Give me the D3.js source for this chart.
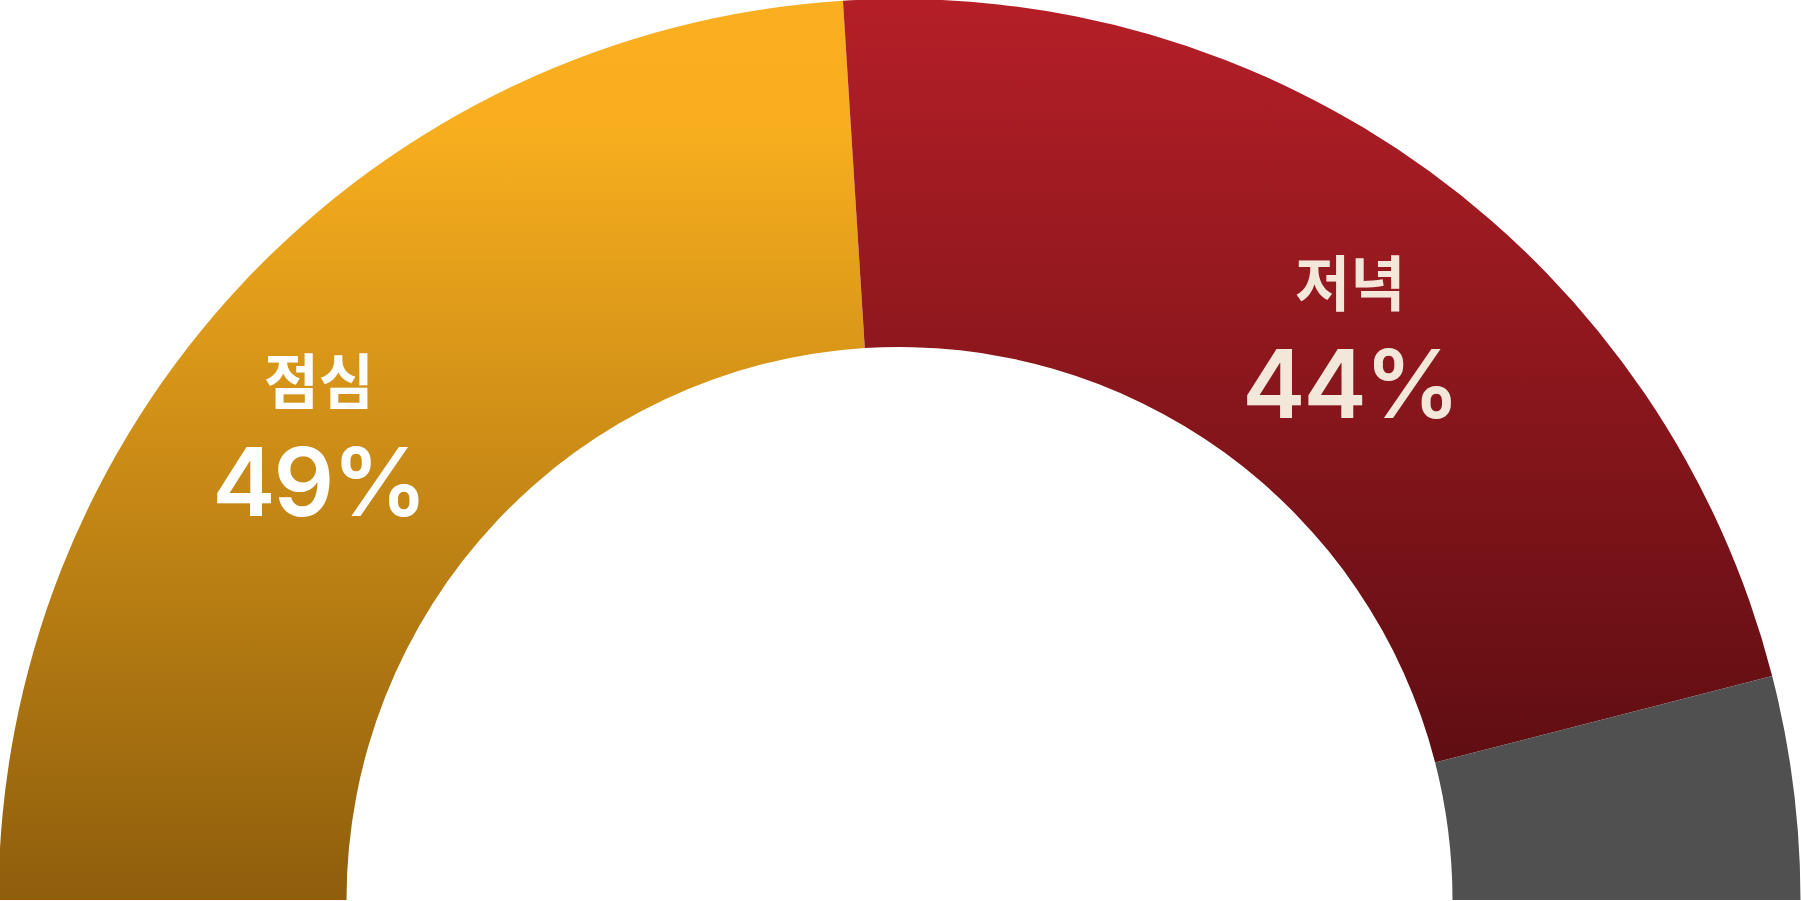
<!DOCTYPE html>
<html>
<head>
<meta charset="utf-8">
<script src="https://cdn.jsdelivr.net/npm/d3@7/dist/d3.min.js"></script>
<style>
  html, body { margin: 0; padding: 0; background: #ffffff; }
  svg { display: block; }
</style>
</head>
<body>
<svg id="chart" width="1801" height="901"></svg>
<script>
// ---- data ----
const categories = ["점심", "저녁", "기타"];
const values = [48, 44, 8];
const valueLabels = ["49%", "44%", ""];

// ---- layout ----
const W = 1801, H = 901;
const cx = 899.5, cy = 900;
const outerR = 901, innerR = 553;

const svg = d3.select("#chart");
const defs = svg.append("defs");

const gradOrange = defs.append("linearGradient").attr("id", "gOrange")
  .attr("x1", 0).attr("y1", 0).attr("x2", 0).attr("y2", 1);
gradOrange.append("stop").attr("offset", 0).attr("stop-color", "#F9AF1F");
gradOrange.append("stop").attr("offset", 0.14).attr("stop-color", "#F8AE1E");
gradOrange.append("stop").attr("offset", 1).attr("stop-color", "#8E5E0C");

const gradRed = defs.append("linearGradient").attr("id", "gRed")
  .attr("x1", 0).attr("y1", 0).attr("x2", 0).attr("y2", 1);
gradRed.append("stop").attr("offset", 0).attr("stop-color", "#B51F27");
gradRed.append("stop").attr("offset", 1).attr("stop-color", "#5F0E12");

const fills = ["url(#gOrange)", "url(#gRed)", "#505050"];
const textColors = ["#FFFFFF", "#F3E7DA", "#FFFFFF"];

const pie = d3.pie().sort(null).value(d => d)
  .startAngle(-Math.PI / 2).endAngle(Math.PI / 2);
const arcs = pie(values);

const arc = d3.arc().innerRadius(innerR).outerRadius(outerR);

const g = svg.append("g").attr("transform", `translate(${cx},${cy})`);

g.selectAll("path.slice")
  .data(arcs)
  .enter().append("path")
  .attr("class", "slice")
  .attr("d", arc)
  .attr("fill", (d, i) => fills[i]);

// label placement: polar position from the slice mid-angle with small nudges
const labelR = [744, 721, 0];
const angleNudge = [-4.5, 2.7, 0]; // degrees

arcs.forEach((d, i) => {
  if (!valueLabels[i]) return;
  const mid = (d.startAngle + d.endAngle) / 2 + angleNudge[i] * Math.PI / 180;
  const x = labelR[i] * Math.sin(mid);
  const y = -labelR[i] * Math.cos(mid);
  const lg = g.append("g").attr("transform", `translate(${x},${y})`);
  lg.append("text")
    .attr("text-anchor", "middle")
    .attr("y", -31)
    .attr("font-family", "'Noto Sans CJK KR', 'Noto Sans', sans-serif")
    .attr("font-weight", 700)
    .attr("font-size", 60)
    .attr("fill", textColors[i])
    .text(categories[i]);
  lg.append("text")
    .attr("text-anchor", "middle")
    .attr("y", 81)
    .attr("font-family", "Inter, 'Noto Sans', sans-serif")
    .attr("font-weight", 600)
    .attr("font-size", 95)
    .attr("letter-spacing", -2)
    .attr("fill", textColors[i])
    .text(valueLabels[i]);
});
</script>
</body>
</html>
